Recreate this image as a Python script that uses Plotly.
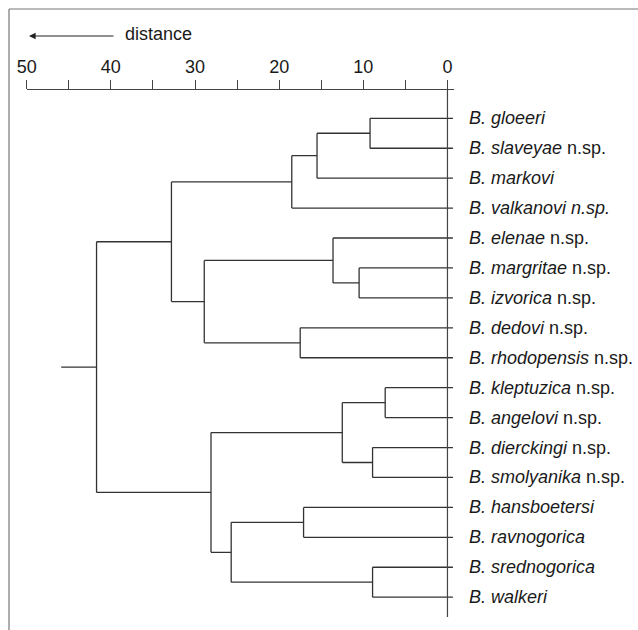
import plotly.graph_objects as go

# ---------------- data ----------------
leaf_names = ["gloeeri", "slaveyae", "markovi", "valkanovi", "elenae", "margritae",
              "izvorica", "dedovi", "rhodopensis", "kleptuzica", "angelovi",
              "dierckingi", "smolyanika", "hansboetersi", "ravnogorica",
              "srednogorica", "walkeri"]
leaf_suffix = ["", " n.sp.", "", " <i>n.sp.</i>", " n.sp.", " n.sp.", " n.sp.", " n.sp.",
               " n.sp.", " n.sp.", " n.sp.", " n.sp.", " n.sp.", "", "", "", ""]
# merges: (child A, child B, distance); leaves are 0..16, new nodes numbered from 17
merge_a = [0, 17, 18, 5, 4, 7, 21, 19, 9, 11, 25, 13, 15, 28, 27, 24]
merge_b = [1, 2, 3, 6, 20, 8, 22, 23, 10, 12, 26, 14, 16, 29, 30, 31]
merge_h = [9.2, 15.5, 18.5, 10.5, 13.6, 17.5, 28.9, 32.8, 7.4, 8.9, 12.5, 17.1, 8.9, 25.7, 28.1, 41.7]
root_stub = 45.9
tick_vals = [50, 45, 40, 35, 30, 25, 20, 15, 10, 5, 0]
tick_text = ["50", "", "40", "", "30", "", "20", "", "10", "", "0"]

W, H = 638, 630
LINE = "#333333"
FONT = "Liberation Sans, Arial, Helvetica"
FS = 18
leaf_end = -0.65

# ---------------- build tree segments ----------------
n_leaf = len(leaf_names)
ypos = {i: float(i) for i in range(n_leaf)}
hpos = {i: leaf_end for i in range(n_leaf)}
xs, ys = [], []
for k, (a, b, h) in enumerate(zip(merge_a, merge_b, merge_h)):
    node = n_leaf + k
    for c in (a, b):
        xs += [hpos[c], h, None]
        ys += [ypos[c], ypos[c], None]
    xs += [h, h, None]
    ys += [ypos[a], ypos[b], None]
    ypos[node] = (ypos[a] + ypos[b]) / 2
    hpos[node] = h
root = n_leaf + len(merge_h) - 1
xs += [hpos[root], root_stub, None]
ys += [ypos[root], ypos[root], None]

# pixel mapping of leaf rows
y_top_px, y_step = 118.3, 29.93
def px_to_y(p):
    return (p - y_top_px) / y_step

axis_px = 89
fig = go.Figure()
fig.add_trace(go.Scatter(x=xs, y=ys, mode="lines",
                         line=dict(color=LINE, width=1.3), hoverinfo="skip",
                         showlegend=False))
# vertical zero line
fig.add_trace(go.Scatter(x=[0, 0], y=[px_to_y(axis_px), px_to_y(617)], mode="lines",
                         line=dict(color="#444444", width=1.2), hoverinfo="skip",
                         showlegend=False))

# leaf labels
for i, (nm, sf) in enumerate(zip(leaf_names, leaf_suffix)):
    fig.add_annotation(x=467 / W, xref="paper", y=i, yref="y",
                       text=f"<i>B. {nm}</i>{sf}", showarrow=False,
                       xanchor="left", yanchor="middle",
                       font=dict(family=FONT, size=FS, color="#1a1a1a"))

# distance label and arrow
fig.add_annotation(x=123 / W, xref="paper", y=1 - 34 / H, yref="paper",
                   text="distance", showarrow=False, xanchor="left", yanchor="middle",
                   font=dict(family=FONT, size=FS, color="#1a1a1a"))
fig.add_annotation(x=29 / W, xref="paper", y=1 - 36 / H, yref="paper",
                   ax=86, ay=0, text="", showarrow=True, arrowhead=2,
                   arrowsize=1.1, arrowwidth=1.2, arrowcolor="#222222")

# frame (left and top)
fig.add_shape(type="line", xref="paper", yref="paper", x0=9 / W, x1=9 / W,
              y0=0, y1=1 - 9 / H, line=dict(color="#777777", width=1.2))
fig.add_shape(type="line", xref="paper", yref="paper", x0=9 / W, x1=1,
              y0=1 - 9 / H, y1=1 - 9 / H, line=dict(color="#777777", width=1.2))

x_left_px, x_right_px = 26.7, 454.2
fig.update_layout(
    width=W, height=H, margin=dict(l=0, r=0, t=0, b=0, autoexpand=False),
    plot_bgcolor="white", paper_bgcolor="white",
    xaxis=dict(domain=[x_left_px / W, x_right_px / W], range=[50, leaf_end - 0.15],
               side="top", anchor="free", position=1 - axis_px / H, automargin=False,
               showline=True, linecolor="#444444", linewidth=1.2,
               ticks="outside", ticklen=9, tickwidth=1.2, tickcolor="#444444",
               tickvals=tick_vals, ticktext=tick_text, showgrid=False, zeroline=False,
               tickfont=dict(family=FONT, size=FS, color="#1a1a1a")),
    yaxis=dict(range=[px_to_y(H), px_to_y(0)], visible=False, showgrid=False,
               zeroline=False, automargin=False),
)
fig.write_html("out.html", config={"displayModeBar": False},
               post_script="document.body.style.margin='0';document.body.style.overflow='hidden';")
